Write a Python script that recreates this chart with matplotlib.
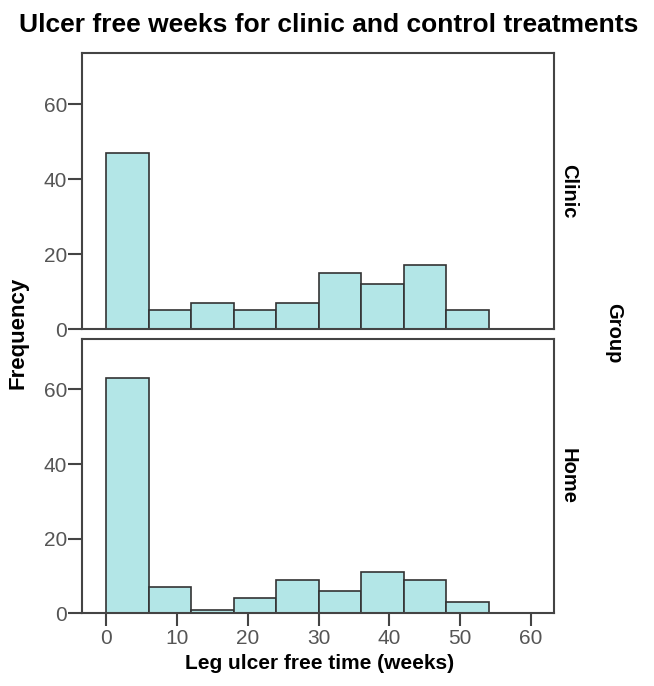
import matplotlib
matplotlib.use("Agg")
import matplotlib.pyplot as plt

# bins of 6 weeks, 0..54
bin_edges = [0, 6, 12, 18, 24, 30, 36, 42, 48, 54]
clinic_counts = [47, 5, 7, 5, 7, 15, 12, 17, 5]
home_counts = [63, 7, 1, 4, 9, 6, 11, 9, 3]
groups = ["Clinic", "Home"]
x_ticks = [0, 10, 20, 30, 40, 50, 60]
y_ticks = [0, 20, 40, 60]

plt.rcParams['font.family'] = ['Liberation Sans', 'DejaVu Sans']

fig = plt.figure(figsize=(6.54, 6.86), dpi=100)
ax_top = fig.add_axes([0.1258, 0.5204, 0.7218, 0.4019])
ax_bot = fig.add_axes([0.1258, 0.1060, 0.7218, 0.4003])

fill = "#b3e6e7"
edge = "#333333"
spine_c = "#444444"

for ax, counts in [(ax_top, clinic_counts), (ax_bot, home_counts)]:
    ax.bar(bin_edges[:-1], counts, width=6, align="edge",
           color=fill, edgecolor=edge, linewidth=1.2, zorder=2)
    ax.set_xlim(-3.4, 63.3)
    ax.set_ylim(0, 73.6)
    ax.set_yticks(y_ticks)
    for s in ax.spines.values():
        s.set_color(spine_c)
        s.set_linewidth(1.5)
    ax.tick_params(axis="y", direction="out", length=10, width=1.5,
                   color=spine_c, labelcolor="#555555", labelsize=15, pad=1)

ax_top.set_xticks([])
ax_bot.set_xticks(x_ticks)
ax_bot.tick_params(axis="x", direction="out", length=9, width=1.5,
                   color=spine_c, labelcolor="#555555", labelsize=15, pad=2)

fig.text(0.503, 0.963, "Ulcer free weeks for clinic and control treatments",
         ha="center", va="center", fontsize=19, fontweight="bold")
fig.text(0.0275, 0.5146, "Frequency", rotation=90, ha="center", va="center",
         fontsize=16, fontweight="bold")
fig.text(0.488, 0.0335, "Leg ulcer free time (weeks)", ha="center", va="center",
         fontsize=15, fontweight="bold")
fig.text(0.869, 0.7215, groups[0], rotation=-90, ha="center", va="center",
         fontsize=14.5, fontweight="bold")
fig.text(0.869, 0.306, groups[1], rotation=-90, ha="center", va="center",
         fontsize=14.5, fontweight="bold")
fig.text(0.939, 0.5146, "Group", rotation=-90, ha="center", va="center",
         fontsize=14.5, fontweight="bold")

fig.savefig("out.png", dpi=100)
